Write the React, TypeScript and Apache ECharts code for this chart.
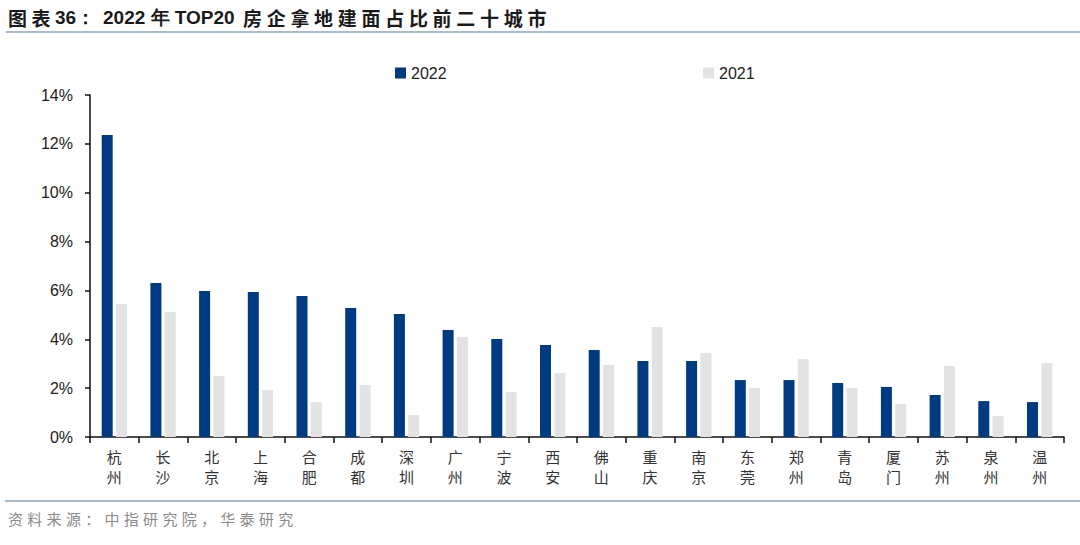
import { useEffect, useRef } from "react";
import * as echarts from "echarts";

const CITIES = [
  "杭州", "长沙", "北京", "上海", "合肥", "成都", "深圳", "广州", "宁波", "西安",
  "佛山", "重庆", "南京", "东莞", "郑州", "青岛", "厦门", "苏州", "泉州", "温州",
];

const SHARE_2022 = [
  12.36, 6.3, 5.98, 5.94, 5.77, 5.28, 5.03, 4.38, 4.01, 3.77,
  3.56, 3.11, 3.11, 2.33, 2.33, 2.21, 2.05, 1.72, 1.47, 1.43,
];

const SHARE_2021 = [
  5.44, 5.12, 2.5, 1.92, 1.43, 2.13, 0.9, 4.09, 1.84, 2.62,
  2.95, 4.5, 3.44, 2.01, 3.19, 2.01, 1.35, 2.91, 0.86, 3.03,
];

const TITLE_LABEL = "图表36：";
const TITLE_MAIN = "2022 年 TOP20";
const TITLE_TAIL = "房企拿地建面占比前二十城市";
const SOURCE = "资料来源：中指研究院，华泰研究";

const COLOR_2022 = "#003A80";
const COLOR_2021 = "#E3E3E3";
const RULE_COLOR = "#8FA3B6";
const LATIN_FONT = "'Liberation Sans', Arial, sans-serif";
const CJK_FONT = "'Noto Sans CJK SC', sans-serif";

// wide-spaced CJK text, one glyph per element
function spacedText(text: string, x: number, y: number, step: number, style: object) {
  return text.split("").map((ch, i) => ({
    type: "text",
    x: x + i * step,
    y,
    style: { text: ch, ...style },
  }));
}

export default function App() {
  const chartRef = useRef<HTMLDivElement>(null);

  useEffect(() => {
    document.body.style.margin = "0";
    if (!chartRef.current) {
      return;
    }
    const chart = echarts.init(chartRef.current, undefined, { renderer: "svg" });

    const legendText = {
      color: "#222",
      fontSize: 16,
      fontFamily: LATIN_FONT,
    };

    const titleStyle = {
      fill: "#1a1a1a",
      fontSize: 19,
      fontWeight: "bold",
      fontFamily: CJK_FONT,
      verticalAlign: "middle",
    };

    const sourceStyle = {
      fill: "#8a8a8a",
      fontSize: 15,
      fontFamily: CJK_FONT,
      verticalAlign: "middle",
    };

    chart.setOption({
      animation: false,
      backgroundColor: "#fff",
      grid: {
        left: 90,
        right: 16,
        top: 95,
        bottom: 108,
      },
      legend: [
        {
          data: ["2022"],
          left: 390,
          top: 60,
          itemWidth: 11,
          itemHeight: 11,
          itemGap: 4,
          icon: "rect",
          textStyle: legendText,
        },
        {
          data: ["2021"],
          left: 698,
          top: 60,
          itemWidth: 11,
          itemHeight: 11,
          icon: "rect",
          textStyle: legendText,
        },
      ],
      xAxis: {
        type: "category",
        data: CITIES,
        axisLine: {
          lineStyle: { color: "#111", width: 1.5 },
        },
        axisTick: {
          show: true,
          length: 6,
          lineStyle: { color: "#111", width: 1.5 },
        },
        axisLabel: {
          interval: 0,
          margin: 9,
          color: "#333",
          fontSize: 15,
          lineHeight: 20,
          fontFamily: CJK_FONT,
          formatter: (value: string) => value.split("").join("\n"),
        },
      },
      yAxis: {
        type: "value",
        min: 0,
        max: 14,
        interval: 2,
        axisLine: {
          show: true,
          lineStyle: { color: "#111", width: 1.5 },
        },
        axisTick: {
          show: true,
          length: 5,
          lineStyle: { color: "#111", width: 1.5 },
        },
        splitLine: { show: false },
        axisLabel: {
          margin: 17,
          color: "#222",
          fontSize: 16,
          fontFamily: LATIN_FONT,
          formatter: "{value}%",
        },
      },
      series: [
        {
          name: "2022",
          type: "bar",
          barWidth: 11,
          barGap: "30%",
          itemStyle: { color: COLOR_2022 },
          data: SHARE_2022,
        },
        {
          name: "2021",
          type: "bar",
          barWidth: 11,
          itemStyle: { color: COLOR_2021 },
          data: SHARE_2021,
        },
      ],
      graphic: [
        ...spacedText(TITLE_LABEL.slice(0, 2), 8, 17, 23.5, titleStyle),
        {
          type: "text",
          x: 55,
          y: 17,
          style: { ...titleStyle, text: TITLE_LABEL.slice(2), fontFamily: LATIN_FONT, fontSize: 19 },
        },
        {
          type: "text",
          x: 103,
          y: 17,
          style: { ...titleStyle, text: TITLE_MAIN, fontFamily: LATIN_FONT, fontSize: 19 },
        },
        ...spacedText(TITLE_TAIL, 243, 17, 23.7, titleStyle),
        {
          type: "line",
          shape: { x1: 6, y1: 32, x2: 1080, y2: 32 },
          style: { stroke: RULE_COLOR, lineWidth: 1.5 },
        },
        {
          type: "line",
          shape: { x1: 5, y1: 501, x2: 1080, y2: 501 },
          style: { stroke: RULE_COLOR, lineWidth: 1.5 },
        },
        ...spacedText(SOURCE, 8, 518, 19.3, sourceStyle),
      ],
    });

    return () => {
      chart.dispose();
    };
  }, []);

  return (
    <div
      ref={chartRef}
      style={{ width: 1080, height: 545, position: "absolute", left: 0, top: 0 }}
    />
  );
}
